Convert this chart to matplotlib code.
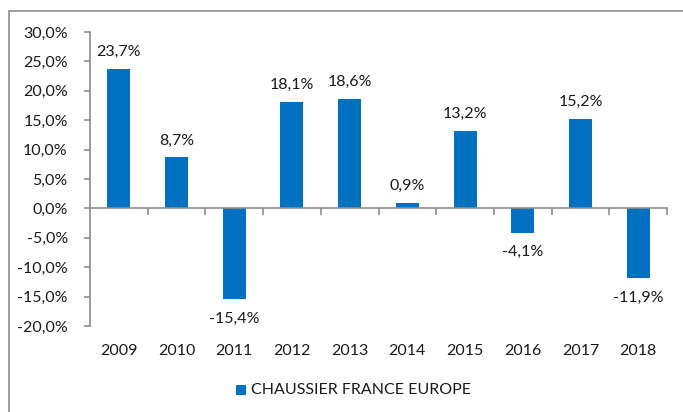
import matplotlib
matplotlib.use("Agg")
import matplotlib.pyplot as plt
from matplotlib.patches import Rectangle
from matplotlib.transforms import blended_transform_factory

years = ["2009", "2010", "2011", "2012", "2013", "2014", "2015", "2016", "2017", "2018"]
values = [23.7, 8.7, -15.4, 18.1, 18.6, 0.9, 13.2, -4.1, 15.2, -11.9]
series_name = "CHAUSSIER FRANCE EUROPE"
yticks = [30, 25, 20, 15, 10, 5, 0, -5, -10, -15, -20]

plt.rcParams['font.family'] = ['Lato', 'DejaVu Sans']
W, H = 683, 412
fig = plt.figure(figsize=(W / 100, H / 100), dpi=100)

# outer chart border
fig.patches.append(Rectangle((9 / W, -0.1), 1.2, 1 - 11 / H + 0.1, transform=fig.transFigure,
                             fill=False, edgecolor="#8c8c8c", linewidth=1.2))

ax = fig.add_axes([90 / W, 1 - 326 / H, (667 - 90) / W, (326 - 32) / H])
color = "#0070C0"
x = list(range(len(years)))
ax.bar(x, values, width=0.4, color=color, zorder=2)
ax.set_xlim(-0.5, len(years) - 0.5)
ax.set_ylim(-20, 30)

for s in ["top", "right"]:
    ax.spines[s].set_visible(False)
grey = "#8c8c8c"
ax.spines["left"].set_color(grey)
ax.spines["left"].set_linewidth(1.2)
ax.spines["bottom"].set_position(("data", 0))
ax.spines["bottom"].set_color(grey)
ax.spines["bottom"].set_linewidth(1.2)

ax.set_yticks(yticks)
ax.set_yticklabels([f"{v:.1f}%".replace(".", ",") for v in yticks])
ax.tick_params(axis="y", length=4, width=1.2, color=grey, pad=12, labelsize=11.5, labelcolor="#1a1a1a")
ax.set_xticks([i + 0.5 for i in range(len(years))])
ax.set_xticklabels([])
ax.tick_params(axis="x", length=5, width=1.2, color=grey, direction="out")

tr = blended_transform_factory(ax.transData, ax.transAxes)
for i, y in enumerate(years):
    ax.text(i, -25 / 294, y, transform=tr, ha="center", va="center", fontsize=11.5, color="#1a1a1a")

for i, v in enumerate(values):
    lab = f"{v:.1f}%".replace(".", ",")
    if v >= 0:
        ax.annotate(lab, (i, v), xytext=(0, 7), textcoords="offset points",
                    ha="center", va="bottom", fontsize=11.5, color="#1a1a1a")
    else:
        ax.annotate(lab, (i, v), xytext=(0, -9), textcoords="offset points",
                    ha="center", va="top", fontsize=11.5, color="#1a1a1a")

# legend
fig.patches.append(Rectangle((236 / W, 1 - 395 / H), 10 / W, 10 / H, transform=fig.transFigure,
                             facecolor=color, edgecolor="none"))
fig.text(251 / W, 1 - 390 / H, series_name, ha="left", va="center", fontsize=11.5, color="#1a1a1a")

fig.savefig("out.png", dpi=100)
